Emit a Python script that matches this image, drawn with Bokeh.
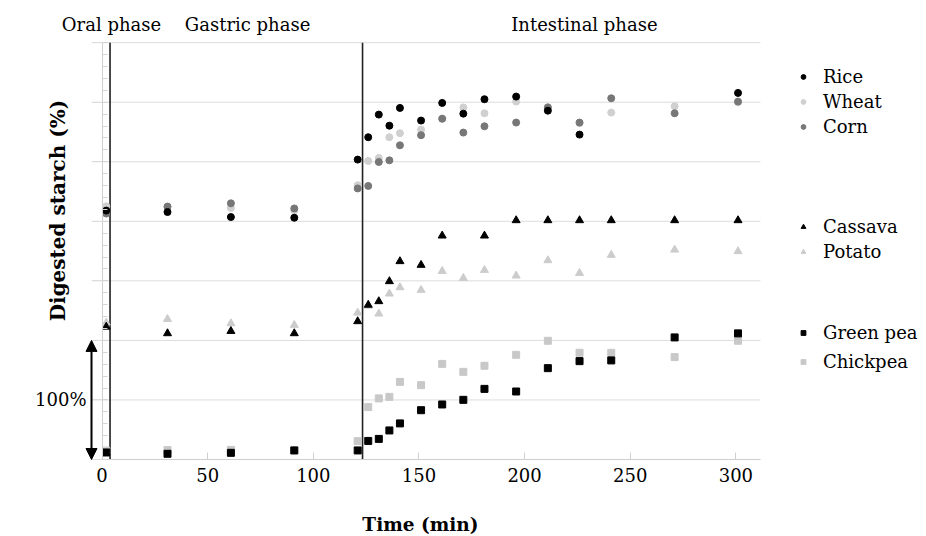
import numpy as np
from bokeh.plotting import figure
from bokeh.models import (Label, Arrow, NormalHead, Legend, LegendItem,
                          FixedTicker, Range1d)
from bokeh.embed import file_html
from bokeh.resources import INLINE

nan = float("nan")

# ---- data (digested starch %, per food) ----
times = [2, 31, 61, 91, 121, 126, 131, 136, 141, 151, 161, 171, 181, 196, 211, 226, 241, 271, 301]

rice = [9.0, 7.8, 3.6, 3.0, 51.8, 70.6, 89.6, 80.3, 95.2, 84.6, 99.4, 90.4, 102.5, 104.7, 92.9, 72.8, nan, nan, 107.8]
wheat = [12.6, 12.0, 11.2, 9.2, 30.3, 50.7, 53.2, 70.6, 74.0, 77.0, 86.0, 95.6, 90.7, 100.5, 95.0, 82.5, 91.3, 96.6, 100.0]
corn = [6.5, 12.4, 15.1, 10.8, 27.6, 29.7, 49.8, 51.2, 63.8, 72.3, 86.2, 74.5, 79.8, 82.9, 95.7, 82.9, 103.3, 90.7, 100.5]

cassava = [11.4, 5.9, 7.8, 5.9, 16.0, 29.8, 32.8, 49.6, 66.4, 63.3, 87.9, nan, 87.9, 100.8, 100.8, 100.8, 100.8, 100.8, 100.8]
potato = [14.8, 17.9, 14.3, 12.9, 23.2, 29.0, 22.4, 39.2, 44.5, 42.3, 58.2, 52.3, 59.0, 54.3, 67.2, 56.5, 71.7, 76.1, 74.8]

green_pea = [5.9, 4.8, 5.6, 7.6, 7.6, 15.6, 17.3, 24.4, 30.3, 41.4, 46.2, 50.1, 59.3, 57.1, 76.7, 82.6, 83.2, 102.5, 105.9]
chickpea = [7.5, 7.9, 8.1, 7.8, 15.4, 44.0, 51.3, 52.6, 65.2, 62.4, 80.3, 73.6, 78.7, 87.9, 99.7, 89.6, 89.6, 86.0, 99.7]

x_ticks = [0, 50, 100, 150, 200, 250, 300]
y_grid = [0, 50, 100, 150, 200, 250, 300, 350]
y_minor = list(range(0, 351, 10))
phase_bounds = [3.8, 123.3]
phase_labels = ["Oral phase", "Gastric phase", "Intestinal phase"]
phase_label_x = [4.5, 68.9, 228.3]

# vertical offsets of the three stacked panels (one panel = 100 %)
OFF_CEREAL, OFF_TUBER, OFF_LEGUME = 200, 100, 0

# data window of the plotting area
X0, X1 = -4.97, 311.6
Y0, Y1 = 0, 350

FONT = "DejaVu Serif"
GRID = "#dcdcdc"
AXIS = "#cfcfcf"

# the frame fills the whole canvas; the plotting area is a sub-window of it
p = figure(width=926, height=536, output_backend="svg", toolbar_location=None,
           x_range=Range1d(-48.04, 390.2), y_range=Range1d(-64.65, 385.4),
           min_border_left=0, min_border_right=0, min_border_top=0,
           min_border_bottom=0)
p.outline_line_color = None
p.background_fill_color = "white"
p.border_fill_color = "white"
p.xgrid.visible = False
p.ygrid.visible = False

# horizontal grid lines across the plotting window
p.segment(x0=[X0] * len(y_grid), y0=y_grid, x1=[X1] * len(y_grid), y1=y_grid,
          line_color=GRID, line_width=1)

# x axis at y = 0
xa = p.xaxis[0]
xa.fixed_location = 0
xa.bounds = (X0, X1)
xa.ticker = FixedTicker(ticks=x_ticks)
xa.axis_line_color = AXIS
xa.major_tick_line_color = AXIS
xa.major_tick_in = 7
xa.major_tick_out = 0
xa.minor_tick_line_color = None
xa.major_label_text_font = FONT
xa.major_label_text_font_size = "18px"
xa.major_label_text_color = "black"
xa.major_label_standoff = 8
xa.axis_label_text_color = "black"

# x axis title
p.add_layout(Label(x=150.7, y=-54.5, text="Time (min)", text_align="center",
                   text_baseline="middle", text_font=FONT, text_font_size="18.5px",
                   text_font_style="bold", text_color="black"))

# y axis at t = 0, without labels
ya = p.yaxis[0]
ya.fixed_location = 0
ya.bounds = (Y0, Y1)
ya.ticker = FixedTicker(ticks=y_grid, minor_ticks=y_minor)
ya.axis_line_color = AXIS
ya.major_tick_line_color = GRID
ya.major_tick_out = 10
ya.major_tick_in = 0
ya.minor_tick_line_color = "#d4d4d4"
ya.minor_tick_in = 5
ya.minor_tick_out = 0
ya.major_label_text_alpha = 0
ya.major_label_text_font_size = "1px"

# phase separators
p.segment(x0=phase_bounds, y0=[Y0] * 2, x1=phase_bounds, y1=[Y1] * 2,
          line_color="#222222", line_width=1.6)

t = np.array(times)
def off(vals, o):
    return np.array(vals, dtype=float) + o

# cereals
r_wheat = p.scatter(t, off(wheat, OFF_CEREAL), marker="circle", size=7, color="#d0d0d0")
r_corn = p.scatter(t, off(corn, OFF_CEREAL), marker="circle", size=7, color="#777777")
r_rice = p.scatter(t, off(rice, OFF_CEREAL), marker="circle", size=7, color="black")
# tubers
r_potato = p.scatter(t, off(potato, OFF_TUBER), marker="triangle", size=8, color="#cccccc")
r_cassava = p.scatter(t, off(cassava, OFF_TUBER), marker="triangle", size=8, color="black")
# legumes
r_chick = p.scatter(t, off(chickpea, OFF_LEGUME), marker="square", size=7, color="#c8c8c8")
r_pea = p.scatter(t, off(green_pea, OFF_LEGUME), marker="square", size=7, color="black")

# phase labels above the plot
for txt, x in zip(phase_labels, phase_label_x):
    p.add_layout(Label(x=x, y=365.1, text=txt, text_align="center",
                       text_baseline="alphabetic", text_font=FONT,
                       text_font_size="18px", text_color="black"))

# y axis title
p.add_layout(Label(x=-21.0, y=209, text="Digested starch (%)", angle=np.pi / 2,
                   text_align="center", text_baseline="middle", text_font=FONT,
                   text_font_size="20px", text_font_style="bold", text_color="black"))

# 100 % scale arrow
p.add_layout(Arrow(x_start=X0, y_start=0, x_end=X0, y_end=100,
                   line_color="black", line_width=2,
                   start=NormalHead(size=11, fill_color="black", line_color="black"),
                   end=NormalHead(size=11, fill_color="black", line_color="black")))
p.add_layout(Label(x=-7.3, y=50, text="100%", text_align="right",
                   text_baseline="middle", text_font=FONT, text_font_size="18px",
                   text_color="black"))

def make_legend(items, loc, spacing):
    lg = Legend(items=[LegendItem(label=n, renderers=[r]) for n, r in items],
                location=loc, orientation="vertical", padding=0, margin=0,
                spacing=spacing, glyph_width=12, glyph_height=25, label_height=25,
                label_standoff=14, border_line_color=None, background_fill_alpha=0,
                label_text_font=FONT, label_text_font_size="18px",
                label_text_color="black")
    p.add_layout(lg)

make_legend([("Rice", r_rice), ("Wheat", r_wheat), ("Corn", r_corn)], (797, 397.5), 0)
make_legend([("Cassava", r_cassava), ("Potato", r_potato)], (797, 272.5), 0)
make_legend([("Green pea", r_pea), ("Chickpea", r_chick)], (797, 162.5), 4)

open("out.html", "w").write(file_html(p, INLINE))
